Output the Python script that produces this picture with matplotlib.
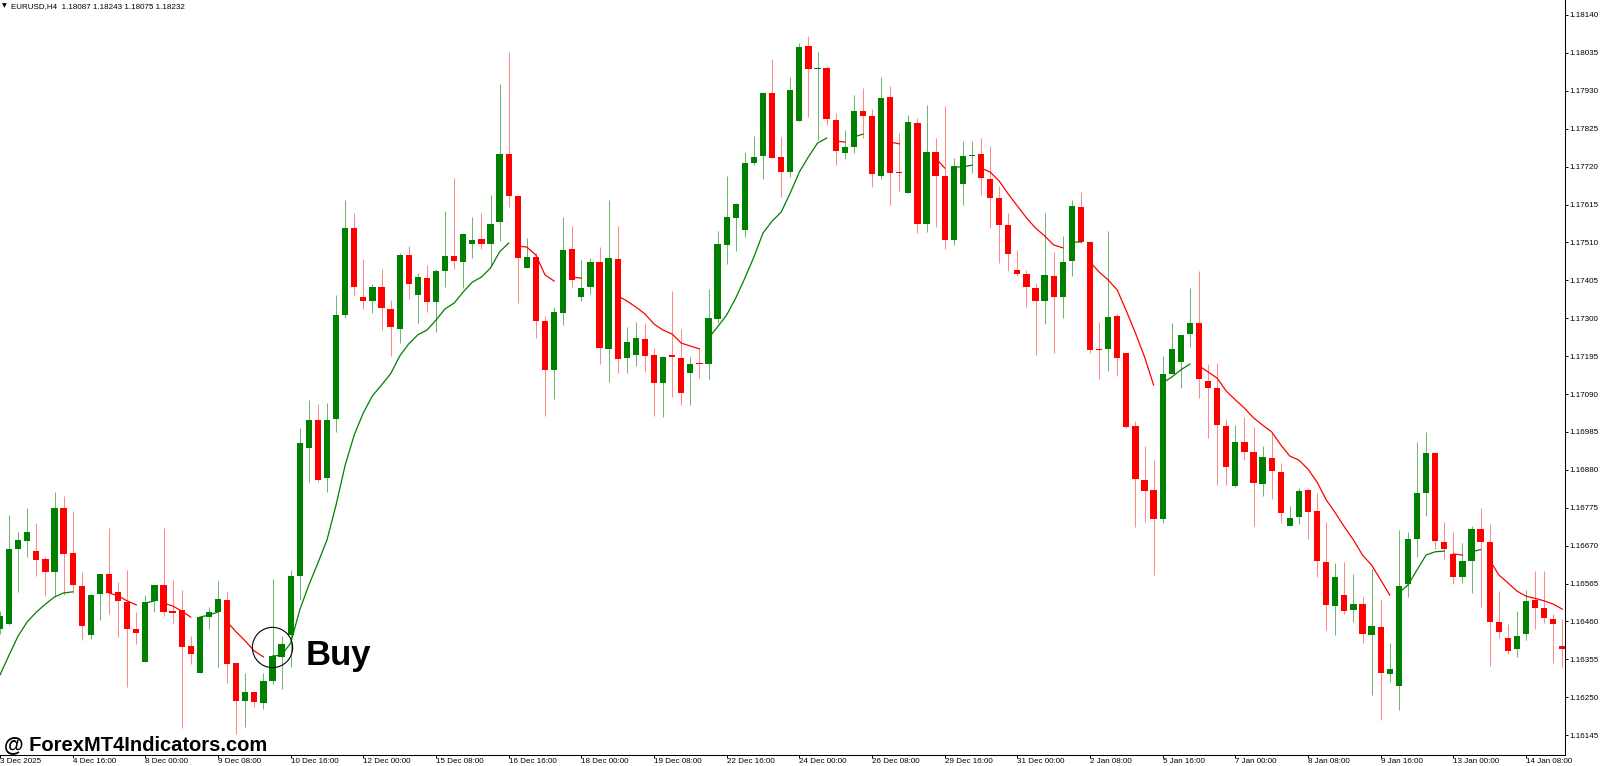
import numpy as np
import matplotlib
matplotlib.use("Agg")
import matplotlib.pyplot as plt

# EURUSD H4 candles, 3 Dec 2025 .. 14 Jan 2026
opens = [1.16440, 1.16453, 1.16661, 1.16683, 1.16655, 1.16633, 1.16597, 1.16774, 1.16650, 1.16558,
         1.16423, 1.16536, 1.16592, 1.16542, 1.16514, 1.16439, 1.16348, 1.16517, 1.16561, 1.16486,
         1.16492, 1.16392, 1.16317, 1.16472, 1.16486, 1.16520, 1.16345, 1.16240, 1.16265, 1.16234,
         1.16295, 1.16362, 1.16423, 1.16586, 1.16941, 1.17018, 1.16857, 1.17021, 1.17309, 1.17550,
         1.17359, 1.17348, 1.17387, 1.17326, 1.17270, 1.17475, 1.17364, 1.17411, 1.17345, 1.17431,
         1.17472, 1.17456, 1.17506, 1.17520, 1.17506, 1.17567, 1.17755, 1.17639, 1.17439, 1.17470,
         1.17292, 1.17157, 1.17315, 1.17492, 1.17359, 1.17387, 1.17456, 1.17215, 1.17464, 1.17190,
         1.17198, 1.17243, 1.17198, 1.17121, 1.17195, 1.17190, 1.17148, 1.17176, 1.17173, 1.17298,
         1.17503, 1.17578, 1.17544, 1.17730, 1.17749, 1.17924, 1.17747, 1.17705, 1.17846, 1.18054,
         1.17990, 1.17993, 1.17849, 1.17758, 1.17774, 1.17874, 1.17860, 1.17694, 1.17913, 1.17705,
         1.17647, 1.17841, 1.17561, 1.17761, 1.17694, 1.17517, 1.17672, 1.17749, 1.17755, 1.17686,
         1.17633, 1.17558, 1.17434, 1.17423, 1.17384, 1.17348, 1.17417, 1.17359, 1.17459, 1.17608,
         1.17511, 1.17215, 1.17215, 1.17306, 1.17204, 1.17002, 1.16852, 1.16824, 1.16744, 1.17146,
         1.17179, 1.17256, 1.17287, 1.17126, 1.17107, 1.17002, 1.16835, 1.16957, 1.16930, 1.16841,
         1.16913, 1.16874, 1.16725, 1.16749, 1.16824, 1.16766, 1.16625, 1.16503, 1.16533, 1.16492,
         1.16508, 1.16423, 1.16445, 1.16315, 1.16281, 1.16564, 1.16689, 1.16816, 1.16927, 1.16680,
         1.16647, 1.16583, 1.16628, 1.16716, 1.16680, 1.16459, 1.16414, 1.16384, 1.16425, 1.16519,
         1.16497, 1.16466, 1.16392]
highs = [1.16490, 1.16755, 1.16708, 1.16774, 1.16733, 1.16639, 1.16819, 1.16808, 1.16766, 1.16597,
         1.16536, 1.16592, 1.16719, 1.16569, 1.16603, 1.16486, 1.16533, 1.16561, 1.16719, 1.16575,
         1.16547, 1.16420, 1.16472, 1.16500, 1.16572, 1.16542, 1.16345, 1.16317, 1.16265, 1.16317,
         1.16578, 1.16420, 1.16603, 1.16996, 1.17074, 1.17062, 1.17065, 1.17364, 1.17628, 1.17592,
         1.17464, 1.17395, 1.17436, 1.17351, 1.17481, 1.17500, 1.17425, 1.17447, 1.17436, 1.17597,
         1.17688, 1.17536, 1.17580, 1.17592, 1.17641, 1.17949, 1.18038, 1.17639, 1.17522, 1.17481,
         1.17306, 1.17331, 1.17580, 1.17556, 1.17461, 1.17467, 1.17497, 1.17628, 1.17556, 1.17276,
         1.17290, 1.17287, 1.17218, 1.17195, 1.17375, 1.17270, 1.17193, 1.17218, 1.17381, 1.17542,
         1.17694, 1.17619, 1.17761, 1.17805, 1.17927, 1.18018, 1.17802, 1.17968, 1.18062, 1.18082,
         1.18038, 1.17999, 1.17869, 1.17821, 1.17918, 1.17938, 1.17880, 1.17968, 1.17943, 1.17813,
         1.17863, 1.17855, 1.17891, 1.17799, 1.17888, 1.17744, 1.17791, 1.17791, 1.17799, 1.17777,
         1.17666, 1.17592, 1.17489, 1.17434, 1.17398, 1.17592, 1.17484, 1.17528, 1.17628, 1.17650,
         1.17514, 1.17290, 1.17542, 1.17312, 1.17204, 1.17015, 1.16946, 1.16907, 1.17195, 1.17287,
         1.17254, 1.17384, 1.17431, 1.17173, 1.17176, 1.17021, 1.17004, 1.17026, 1.16999, 1.16946,
         1.16985, 1.16899, 1.16780, 1.16830, 1.16830, 1.16816, 1.16736, 1.16622, 1.16625, 1.16592,
         1.16528, 1.16605, 1.16522, 1.16400, 1.16713, 1.16708, 1.16957, 1.16985, 1.16930, 1.16736,
         1.16708, 1.16677, 1.16725, 1.16774, 1.16730, 1.16544, 1.16453, 1.16489, 1.16547, 1.16600,
         1.16600, 1.16482, 1.16468]
lows = [1.16425, 1.16450, 1.16542, 1.16639, 1.16586, 1.16531, 1.16528, 1.16533, 1.16539, 1.16409,
        1.16412, 1.16464, 1.16481, 1.16417, 1.16279, 1.16398, 1.16348, 1.16486, 1.16475, 1.16456,
        1.16165, 1.16342, 1.16317, 1.16439, 1.16334, 1.16290, 1.16148, 1.16168, 1.16223, 1.16218,
        1.16287, 1.16273, 1.16334, 1.16520, 1.16846, 1.16846, 1.16819, 1.16985, 1.17301, 1.17362,
        1.17326, 1.17315, 1.17267, 1.17195, 1.17231, 1.17353, 1.17287, 1.17317, 1.17262, 1.17387,
        1.17436, 1.17384, 1.17467, 1.17492, 1.17442, 1.17514, 1.17608, 1.17342, 1.17439, 1.17245,
        1.17029, 1.17076, 1.17281, 1.17387, 1.17348, 1.17367, 1.17173, 1.17123, 1.17148, 1.17148,
        1.17168, 1.17151, 1.17029, 1.17026, 1.17082, 1.17060, 1.17060, 1.17134, 1.17132, 1.17287,
        1.17450, 1.17486, 1.17525, 1.17724, 1.17686, 1.17744, 1.17636, 1.17691, 1.17846, 1.17857,
        1.17794, 1.17835, 1.17724, 1.17741, 1.17758, 1.17799, 1.17664, 1.17686, 1.17614, 1.17652,
        1.17647, 1.17536, 1.17539, 1.17553, 1.17492, 1.17503, 1.17614, 1.17702, 1.17641, 1.17550,
        1.17453, 1.17431, 1.17417, 1.17331, 1.17198, 1.17284, 1.17204, 1.17301, 1.17417, 1.17508,
        1.17204, 1.17132, 1.17154, 1.17140, 1.16996, 1.16722, 1.16736, 1.16589, 1.16733, 1.17146,
        1.17107, 1.17220, 1.17079, 1.16968, 1.16838, 1.16838, 1.16833, 1.16907, 1.16725, 1.16808,
        1.16799, 1.16733, 1.16725, 1.16730, 1.16689, 1.16583, 1.16436, 1.16423, 1.16481, 1.16459,
        1.16400, 1.16256, 1.16187, 1.16292, 1.16215, 1.16528, 1.16639, 1.16752, 1.16661, 1.16633,
        1.16564, 1.16567, 1.16539, 1.16500, 1.16337, 1.16414, 1.16370, 1.16362, 1.16409, 1.16440,
        1.16455, 1.16345, 1.16335]
closes = [1.16475, 1.16661, 1.16686, 1.16708, 1.16630, 1.16597, 1.16774, 1.16647, 1.16561, 1.16448,
          1.16533, 1.16592, 1.16539, 1.16517, 1.16439, 1.16428, 1.16514, 1.16561, 1.16486, 1.16484,
          1.16389, 1.16370, 1.16472, 1.16486, 1.16522, 1.16342, 1.16240, 1.16265, 1.16237, 1.16295,
          1.16364, 1.16398, 1.16586, 1.16954, 1.17018, 1.16852, 1.17018, 1.17309, 1.17550, 1.17387,
          1.17348, 1.17387, 1.17328, 1.17276, 1.17475, 1.17395, 1.17414, 1.17345, 1.17431, 1.17472,
          1.17459, 1.17533, 1.17517, 1.17506, 1.17561, 1.17755, 1.17639, 1.17467, 1.17470, 1.17292,
          1.17157, 1.17317, 1.17489, 1.17406, 1.17384, 1.17456, 1.17218, 1.17467, 1.17187, 1.17234,
          1.17245, 1.17195, 1.17121, 1.17193, 1.17193, 1.17093, 1.17173, 1.17173, 1.17301, 1.17506,
          1.17580, 1.17616, 1.17730, 1.17747, 1.17924, 1.17744, 1.17705, 1.17932, 1.18051, 1.17990,
          1.17993, 1.17852, 1.17763, 1.17774, 1.17874, 1.17860, 1.17700, 1.17910, 1.17702, 1.17702,
          1.17844, 1.17561, 1.17761, 1.17694, 1.17517, 1.17722, 1.17749, 1.17752, 1.17688, 1.17633,
          1.17558, 1.17478, 1.17423, 1.17387, 1.17348, 1.17420, 1.17359, 1.17456, 1.17611, 1.17511,
          1.17212, 1.17212, 1.17303, 1.17190, 1.16999, 1.16855, 1.16821, 1.16744, 1.17146, 1.17215,
          1.17254, 1.17287, 1.17132, 1.17107, 1.17004, 1.16888, 1.16957, 1.16930, 1.16844, 1.16916,
          1.16877, 1.16761, 1.16747, 1.16821, 1.16763, 1.16628, 1.16506, 1.16583, 1.16489, 1.16508,
          1.16425, 1.16448, 1.16317, 1.16328, 1.16558, 1.16689, 1.16816, 1.16927, 1.16683, 1.16661,
          1.16583, 1.16628, 1.16716, 1.16680, 1.16459, 1.16431, 1.16378, 1.16420, 1.16517, 1.16497,
          1.16469, 1.16453, 1.16384]

# trend line: (first bar, values) pieces, green = up, red = down
ma_up_parts = [
    (0, [1.16312, 1.16367, 1.16420, 1.16459, 1.16486, 1.16508, 1.16528, 1.16539, 1.16542]),
    (16, [1.16511, 1.16517]),
    (22, [1.16472, 1.16478, 1.16486]),
    (30, [1.16364, 1.16367, 1.16400, 1.16492, 1.16561, 1.16622, 1.16686, 1.16783, 1.16893,
          1.16977, 1.17038, 1.17085, 1.17115, 1.17146, 1.17195, 1.17229, 1.17254, 1.17267,
          1.17295, 1.17326, 1.17342, 1.17373, 1.17400, 1.17414, 1.17439, 1.17484, 1.17508]),
    (78, [1.17245, 1.17276, 1.17309, 1.17356, 1.17411, 1.17470, 1.17536, 1.17569, 1.17594,
          1.17647, 1.17705, 1.17747, 1.17785, 1.17799]),
    (94, [1.17802, 1.17810]),
    (105, [1.17719, 1.17719, 1.17724]),
    (118, [1.17511, 1.17511]),
    (128, [1.17121, 1.17137, 1.17157, 1.17173]),
    (154, [1.16539, 1.16561, 1.16603, 1.16644, 1.16653, 1.16655]),
    (162, [1.16653, 1.16659]),
]
ma_dn_parts = [
    (12, [1.16539, 1.16531, 1.16517, 1.16506]),
    (18, [1.16511, 1.16503, 1.16489, 1.16472]),
    (25, [1.16459, 1.16431, 1.16406, 1.16378, 1.16362]),
    (57, [1.17500, 1.17497, 1.17475, 1.17420, 1.17403]),
    (63, [1.17414, 1.17411]),
    (68, [1.17362, 1.17348, 1.17331, 1.17312, 1.17284, 1.17267, 1.17256, 1.17231, 1.17223, 1.17215]),
    (92, [1.17791, 1.17788]),
    (98, [1.17788, 1.17783]),
    (103, [1.17744, 1.17716]),
    (108, [1.17716, 1.17705, 1.17680, 1.17644, 1.17611, 1.17578, 1.17550, 1.17528, 1.17503, 1.17495]),
    (120, [1.17456, 1.17428, 1.17406, 1.17378, 1.17320, 1.17259, 1.17193, 1.17115]),
    (132, [1.17168, 1.17151, 1.17134, 1.17098, 1.17074, 1.17051, 1.17024, 1.17004, 1.16985,
           1.16949, 1.16918, 1.16907, 1.16882, 1.16846, 1.16797, 1.16761, 1.16722, 1.16686,
           1.16644, 1.16616, 1.16575, 1.16533]),
    (160, [1.16647, 1.16644]),
    (164, [1.16630, 1.16589, 1.16567, 1.16544, 1.16530, 1.16524, 1.16517, 1.16508, 1.16494]),
]

time_labels = ["3 Dec 2025", "4 Dec 16:00", "8 Dec 00:00", "9 Dec 08:00", "10 Dec 16:00",
               "12 Dec 00:00", "15 Dec 08:00", "16 Dec 16:00", "18 Dec 00:00", "19 Dec 08:00",
               "22 Dec 16:00", "24 Dec 00:00", "26 Dec 08:00", "29 Dec 16:00", "31 Dec 00:00",
               "2 Jan 08:00", "5 Jan 16:00", "7 Jan 00:00", "8 Jan 08:00", "9 Jan 16:00",
               "13 Jan 00:00", "14 Jan 08:00"]
time_label_bars = list(range(0, 8 * len(time_labels), 8))
price_labels = ["1.18140", "1.18035", "1.17930", "1.17825", "1.17720", "1.17615", "1.17510",
                "1.17405", "1.17300", "1.17195", "1.17090", "1.16985", "1.16880", "1.16775",
                "1.16670", "1.16565", "1.16460", "1.16355", "1.16250", "1.16145"]

buy_bar, buy_price = 29.93, 1.16389
header = "EURUSD,H4  1.18087 1.18243 1.18075 1.18232"

UP = "#008000"
DN = "#ff0000"
FONT = ["Liberation Sans", "DejaVu Sans"]


def build_line(parts, n):
    arr = np.full(n, np.nan)
    for start, vals in parts:
        arr[start:start + len(vals)] = vals
    return arr


def main():
    o = np.array(opens)
    h = np.array(highs)
    l = np.array(lows)
    c = np.array(closes)
    n = len(o)
    x = np.arange(n)
    bull = c >= o

    fig = plt.figure(figsize=(16, 7.66), dpi=100)
    ax = fig.add_axes([0, 11 / 766, 1565 / 1600, 755 / 766])

    wick_cols = np.where(bull, "#70b870", "#ff8a8a")
    ax.vlines(x, l, h, colors=wick_cols, linewidth=0.75, zorder=1)

    body_cols = np.where(bull, UP, DN)
    body_lo = np.minimum(o, c)
    body_h = np.maximum(np.abs(c - o), 0.00004)
    ax.bar(x, body_h, bottom=body_lo, width=0.69, color=body_cols, linewidth=0, zorder=2)

    ax.plot(x, build_line(ma_up_parts, n), color=UP, lw=0.9, zorder=3)
    ax.plot(x, build_line(ma_dn_parts, n), color=DN, lw=0.9, zorder=3)

    # buy marker
    ax.plot([buy_bar], [buy_price], marker="o", ms=29, mfc="none", mec="black", mew=0.8, zorder=4)
    ax.text(33.6, 1.16339, "Buy", fontsize=25, fontweight="bold", family=FONT,
            va="baseline", ha="left", zorder=4)

    ax.set_xlim(0.12, 172.29)
    ax.set_ylim(1.160901, 1.181815)

    ax.yaxis.tick_right()
    ax.set_yticks([float(s) for s in price_labels])
    ax.set_yticklabels(price_labels, family=FONT, fontsize=5.8)
    ax.set_xticks(time_label_bars)
    ax.set_xticklabels(time_labels, family=FONT, fontsize=5.8, ha="left")
    ax.tick_params(axis="y", direction="out", length=2.2, width=0.7, pad=1.2)
    ax.tick_params(axis="x", direction="out", length=2.2, width=0.7, pad=0.3)

    for side in ("left", "top"):
        ax.spines[side].set_visible(False)
    for side in ("right", "bottom"):
        ax.spines[side].set_color("black")
        ax.spines[side].set_linewidth(0.75)

    fig.text(2 / 1600, 1 - 6 / 766, "\u25bc", fontsize=4.5, family="DejaVu Sans", va="center")
    fig.text(11 / 1600, 1 - 6.3 / 766, header, fontsize=5.8, family=FONT, va="center")
    fig.text(4 / 1600, (766 - 750) / 766, "@ ForexMT4Indicators.com", fontsize=14.5,
             fontweight="bold", family=FONT, va="baseline")

    fig.savefig("out.png", dpi=100, facecolor="white")
    plt.close(fig)


if __name__ == "__main__":
    main()
